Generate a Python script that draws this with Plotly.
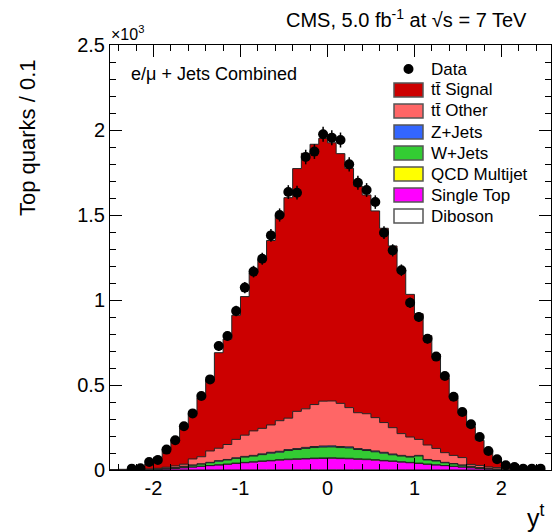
import numpy as np
import plotly.graph_objects as go

# ---------------- data ----------------
bin_low, bin_width, n_bins = -2.5, 0.1, 50

data = [None, None, 8, 10, 47, 59, 120, 175, 257, 333, 435, 533, 729, 788, 935, 1073, 1167,
        1243, 1380, 1500, 1635, 1631, 1841, 1873, 1975, 1955, 1941, 1798, 1690, 1647, 1576,
        1396, 1292, 1175, 984, 900, 772, 667, 553, 431, 341, 269, 194, 112, 63, 28, 18, 8, 8, 8]

tt_signal = [1.5, 3, 6.5, 12, 29, 65, 109, 156, 216, 265, 347, 418, 562, 620, 730, 815, 930,
             995, 1085, 1208, 1297, 1428, 1503, 1531, 1546, 1519, 1469, 1408, 1334, 1287, 1216,
             1143, 1069, 961, 839, 739, 643, 553, 438, 339, 262, 222, 148, 97, 56, 29, 12, 6.5, 3, 1.5]

tt_other = [0.3, 0.5, 0.5, 1, 2, 4, 6, 9, 12, 35, 41, 67, 73, 88, 108, 125, 144, 150, 161, 180,
            185, 219, 227, 247, 264, 264, 254, 231, 211, 211, 196, 175, 155, 128, 114, 94, 85, 71,
            57, 48, 43, 11, 12, 8, 8, 2, 1, 0.5, 0.5, 0.3]

z_jets = [0, 0, 0.1, 0.2, 0.3, 0.5, 0.8, 1, 1.5, 2, 2, 2.5, 3, 3, 3.5, 4, 4, 4.5, 5, 5, 5.5, 5.5,
          6, 6, 6, 6, 6, 6, 5.5, 5.5, 5, 5, 4.5, 4, 4, 3.5, 3, 3, 2.5, 2, 2, 1.5, 1, 0.8, 0.5,
          0.3, 0.2, 0.1, 0, 0]

w_jets = [0.1, 0.2, 0.3, 0.5, 1.4, 1.1, 2.7, 4.3, 6.7, 9.7, 12.6, 16, 21, 23.9, 27.9, 31.3, 33.3,
          37.2, 42.7, 44.1, 50.6, 54.5, 59, 62, 64, 64, 62, 61, 54.5, 50.6, 46.1, 42.7, 36.2, 33.3,
          31.3, 41.9, 23.9, 22, 16, 13.6, 9.7, 6.7, 4.3, 2.7, 1.1, 1.4, 0.5, 0.3, 0.2, 0.1]

qcd = [0, 0, 0, 0.1, 0.2, 0.3, 0.3, 0.5, 0.5, 1, 1, 1, 1.5, 1.5, 2, 2, 2, 2.5, 2.5, 3, 3, 3, 3, 3,
       3, 3, 3, 3, 3, 3, 3, 2.5, 2.5, 2, 2, 2, 1.5, 1.5, 1, 1, 1, 0.5, 0.5, 0.3, 0.3, 0.2, 0.1, 0, 0, 0]

single_top = [0.1, 0.3, 0.6, 1.2, 2, 4, 6, 9, 13, 17, 21, 25, 29, 33, 38, 42, 46, 50, 53, 57, 60,
              62, 64, 66, 67, 68, 66, 65, 62, 60, 57, 53, 50, 46, 42, 38, 33, 29, 25, 21, 17, 13,
              9, 6, 4, 2, 1.2, 0.6, 0.3, 0.1]

diboson = [0, 0, 0, 0, 0.1, 0.1, 0.2, 0.2, 0.3, 0.3, 0.4, 0.5, 0.5, 0.6, 0.6, 0.7, 0.7, 0.8, 0.8,
           0.9, 0.9, 1, 1, 1, 1, 1, 1, 1, 1, 0.9, 0.9, 0.8, 0.8, 0.7, 0.7, 0.6, 0.6, 0.5, 0.5, 0.4,
           0.3, 0.3, 0.2, 0.2, 0.1, 0.1, 0, 0, 0, 0]

legend_labels = ["Data", "tt\u0304 Signal", "tt\u0304 Other", "Z+Jets", "W+Jets",
                 "QCD Multijet", "Single Top", "Diboson"]
y_tickvals = [0, 500, 1000, 1500, 2000, 2500]
y_ticktext = ["0", "0.5", "1", "1.5", "2", "2.5"]
x_tickvals = [-2, -1, 0, 1, 2]
x_ticktext = ["-2", "-1", "0", "1", "2"]

# ---------------- styling ----------------
FONT = "Liberation Sans, Arial, Helvetica, sans-serif"
colors = {
    "tt\u0304 Signal": "#cc0000",
    "tt\u0304 Other": "#ff6666",
    "Z+Jets": "#3366ff",
    "W+Jets": "#33cc33",
    "QCD Multijet": "#ffff00",
    "Single Top": "#ff00ff",
    "Diboson": "#ffffff",
}

edges = np.round(bin_low + bin_width * np.arange(n_bins + 1), 3)
centers = np.round(edges[:-1] + bin_width / 2, 3)


def steps(v):
    return list(v) + [v[-1]]


fig = go.Figure()

# stack bottom -> top
stack = [("Diboson", diboson), ("Single Top", single_top), ("QCD Multijet", qcd),
         ("W+Jets", w_jets), ("Z+Jets", z_jets), ("tt\u0304 Other", tt_other),
         ("tt\u0304 Signal", tt_signal)]
for name, vals in stack:
    fig.add_trace(go.Scatter(
        x=edges, y=steps(vals), mode="lines", name=name,
        line=dict(shape="hv", color="#222222", width=1),
        fillcolor=colors[name], stackgroup="mc", showlegend=False, hoverinfo="skip"))

data_arr = np.array([np.nan if d is None else d for d in data], dtype=float)
fig.add_trace(go.Scatter(
    x=centers, y=data_arr, mode="markers", name="Data",
    marker=dict(color="black", size=10),
    error_y=dict(type="data", array=np.sqrt(np.nan_to_num(data_arr)), color="black",
                 thickness=1.5, width=0),
    showlegend=False))

# ---------------- layout ----------------
L, R, T, B = 110, 1, 45, 62
W, H = 552, 532
pw, ph = W - L - R, H - T - B


def px(xp):
    return (xp - L) / pw


def py(yp):
    return (H - B - yp) / ph


axis_common = dict(ticks="inside", ticklen=12, tickwidth=1, tickcolor="black",
                   showline=True, linecolor="black", linewidth=1, mirror="ticks",
                   showgrid=False, zeroline=False,
                   tickfont=dict(family=FONT, size=20, color="black"))

fig.update_layout(
    width=W, height=H, margin=dict(l=L, r=R, t=T, b=B),
    paper_bgcolor="white", plot_bgcolor="white", showlegend=False,
    font=dict(family=FONT, color="black"),
    xaxis=dict(range=[-2.5, 2.57], tickvals=x_tickvals, ticktext=x_ticktext,
               minor=dict(ticks="inside", ticklen=6, dtick=0.2, tick0=0, tickcolor="black"),
               **axis_common),
    yaxis=dict(range=[0, 2500], tickvals=y_tickvals, ticktext=y_ticktext,
               minor=dict(ticks="inside", ticklen=6, dtick=100, tick0=0, tickcolor="black"),
               **axis_common),
)

ann = []
ann.append(dict(text="CMS, 5.0 fb<sup>-1</sup> at \u221as = 7 TeV", x=px(529), y=py(19),
                xanchor="right", yanchor="middle", font=dict(size=20)))
ann.append(dict(text="\u00d710<sup>3</sup>", x=px(109), y=py(45), xanchor="left",
                yanchor="bottom", font=dict(size=16)))
ann.append(dict(text="e/\u03bc + Jets Combined", x=px(129), y=py(74), xanchor="left",
                yanchor="middle", font=dict(size=18)))
ann.append(dict(text="Top quarks / 0.1", textangle=-90, x=px(27), y=py(138),
                xanchor="center", yanchor="middle", font=dict(size=22)))
ann.append(dict(text="y<sup>t</sup>", x=px(547), y=py(516), xanchor="right",
                yanchor="middle", font=dict(size=25)))

shapes = []
row_y = [69, 90, 111, 132, 153, 174, 195, 216]
sx0, sx1, sh = 394, 423, 14
for i, lab in enumerate(legend_labels):
    yc = row_y[i]
    if lab == "Data":
        r = 5
        xc = (sx0 + sx1) / 2
        shapes.append(dict(type="circle", xref="paper", yref="paper",
                           x0=px(xc - r), x1=px(xc + r), y0=py(yc + r), y1=py(yc - r),
                           fillcolor="black", line=dict(color="black", width=0)))
    else:
        shapes.append(dict(type="rect", xref="paper", yref="paper",
                           x0=px(sx0), x1=px(sx1), y0=py(yc + sh / 2), y1=py(yc - sh / 2),
                           fillcolor=colors[lab], line=dict(color="#555555", width=1.5)))
    ann.append(dict(text=lab, x=px(429), y=py(yc), xanchor="left", yanchor="middle",
                    font=dict(size=17)))

for a in ann:
    a.update(xref="paper", yref="paper", showarrow=False)
    a["font"].update(family=FONT, color="black")

fig.update_layout(annotations=ann, shapes=shapes)

fig.write_html("out.html")
